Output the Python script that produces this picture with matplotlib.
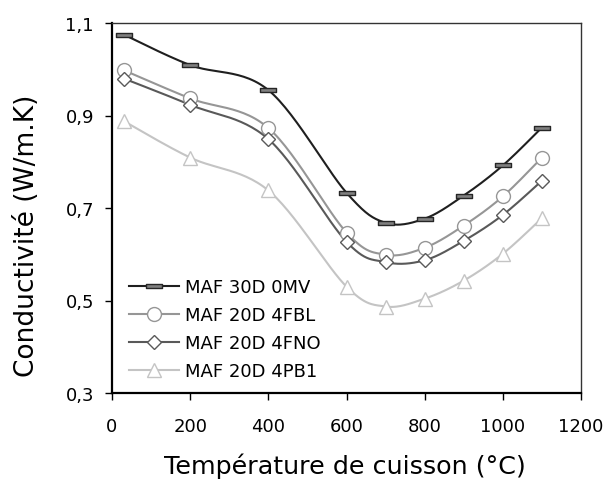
import numpy as np
import matplotlib
matplotlib.use("Agg")
import matplotlib.pyplot as plt
from matplotlib.path import Path

temperature = [30, 200, 400, 600, 700, 800, 900, 1000, 1100]
maf30d_0mv = [1.075, 1.009, 0.955, 0.733, 0.668, 0.677, 0.727, 0.792, 0.874]
maf20d_4fbl = [0.998, 0.937, 0.873, 0.647, 0.599, 0.614, 0.662, 0.725, 0.809]
maf20d_4fno = [0.980, 0.923, 0.849, 0.627, 0.583, 0.587, 0.629, 0.685, 0.759]
maf20d_4pb1 = [0.888, 0.809, 0.738, 0.530, 0.487, 0.504, 0.543, 0.601, 0.678]
series_names = ["MAF 30D 0MV", "MAF 20D 4FBL", "MAF 20D 4FNO", "MAF 20D 4PB1"]
x_ticks = [0, 200, 400, 600, 800, 1000, 1200]
y_ticks = [0.3, 0.5, 0.7, 0.9, 1.1]
y_tick_labels = ["0,3", "0,5", "0,7", "0,9", "1,1"]

XMIN, XMAX, YMIN, YMAX = 0, 1200, 0.3, 1.1


def smooth(xs, ys, n=30):
    # Excel-like Bezier smoothing in normalized axis space
    sx = 469.0 / (XMAX - XMIN)
    sy = 370.0 / (YMAX - YMIN)
    P = np.column_stack([np.asarray(xs) * sx, np.asarray(ys) * sy])
    out = [P[0]]
    m = len(P)
    t = np.linspace(0, 1, n)[1:, None]
    for i in range(m - 1):
        p0 = P[i]
        p3 = P[i + 1]
        pm = P[i - 1] if i > 0 else P[i]
        pp = P[i + 2] if i + 2 < m else P[i + 1]
        c1 = p0 + (p3 - pm) / 6.0
        c2 = p3 - (pp - p0) / 6.0
        seg = ((1 - t) ** 3) * p0 + 3 * ((1 - t) ** 2) * t * c1 + 3 * (1 - t) * t ** 2 * c2 + t ** 3 * p3
        out.extend(seg)
    out = np.array(out)
    return out[:, 0] / sx, out[:, 1] / sy


dash_marker = Path([(-0.5, -0.15), (0.5, -0.15), (0.5, 0.15), (-0.5, 0.15), (-0.5, -0.15)],
                   [Path.MOVETO, Path.LINETO, Path.LINETO, Path.LINETO, Path.CLOSEPOLY])

styles = [
    dict(color="#1f1f1f", marker=dash_marker, mfc="#808080", mec="#262626", ms=11),
    dict(color="#969696", marker="o", mfc="white", mec="#969696", ms=10),
    dict(color="#595959", marker="D", mfc="white", mec="#595959", ms=7),
    dict(color="#c4c4c4", marker="^", mfc="white", mec="#c4c4c4", ms=10.5),
]

fig = plt.figure(figsize=(6.03, 4.81), dpi=100)
ax = fig.add_axes([112 / 603, 1 - 394 / 481, 469 / 603, 370 / 481])

for ys, name, st in zip([maf30d_0mv, maf20d_4fbl, maf20d_4fno, maf20d_4pb1], series_names, styles):
    sx_, sy_ = smooth(temperature, ys)
    ax.plot(sx_, sy_, color=st["color"], lw=1.5, zorder=2)
    ax.plot(temperature, ys, linestyle="none", marker=st["marker"], mfc=st["mfc"],
            mec=st["mec"], ms=st["ms"], mew=1.0, zorder=3)
    ax.plot([], [], color=st["color"], lw=1.5, marker=st["marker"], mfc=st["mfc"],
            mec=st["mec"], ms=st["ms"], mew=1.0, label=name)

ax.set_xlim(XMIN, XMAX)
ax.set_ylim(YMIN, YMAX)
ax.set_xticks(x_ticks)
ax.set_xticklabels([str(v) for v in x_ticks])
ax.set_yticks(y_ticks)
ax.set_yticklabels(y_tick_labels)
ax.tick_params(direction="out", length=5, width=1, labelsize=13, colors="black", pad=8)
ax.tick_params(axis="x", pad=12)
for side in ["left", "bottom"]:
    ax.spines[side].set_linewidth(1.6)
for side in ["top", "right"]:
    ax.spines[side].set_linewidth(1.0)
    ax.spines[side].set_color("#333333")

ax.set_xlabel("Température de cuisson (°C)", fontsize=18.3, va="center")
ax.xaxis.set_label_coords(0.5 - 2 / 469, (394 - 466) / 370)
ax.set_ylabel("Conductivité (W/m.K)", fontsize=19, va="center")
ax.yaxis.set_label_coords((27 - 112) / 469, (394 - 236) / 370)

ax.legend(loc="lower left", bbox_to_anchor=(0.036, 0.035), frameon=False, fontsize=13,
          handlelength=2.8, labelspacing=0.55, borderpad=0, handletextpad=0.3,
          borderaxespad=0)

fig.savefig("out.png", dpi=100)
